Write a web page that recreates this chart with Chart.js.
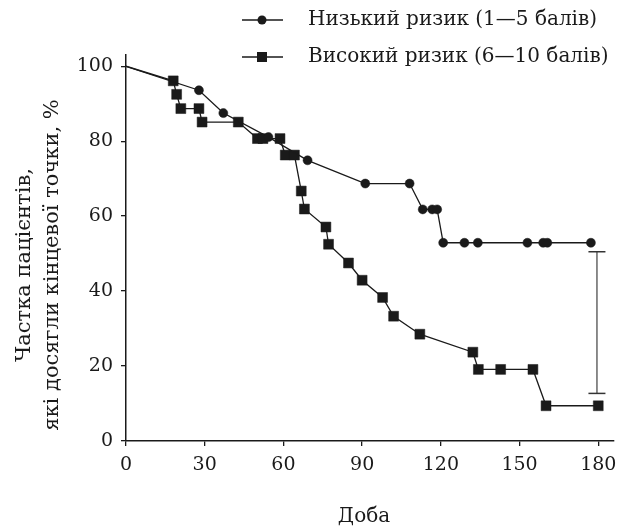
<!DOCTYPE html>
<html>
<head>
<meta charset="utf-8">
<script src="https://cdn.jsdelivr.net/npm/chart.js@4.4.0/dist/chart.umd.min.js"></script>
<style>
  html, body { margin: 0; padding: 0; background: #fff; }
  #wrap { width: 625px; height: 529px; position: relative; }
</style>
</head>
<body>
<div id="wrap"><canvas id="kmChart"></canvas></div>
<script>
// Data
const lowLabel = 'Низький ризик (1—5 балів)';
const highLabel = 'Високий ризик (6—10 балів)';

const lowDays = [0, 27.8, 37.1, 54.3, 69.2, 91.2, 108.1, 113.1, 116.7, 118.6, 120.9, 129.0, 134.1, 153.0, 159.0, 160.6, 177.2];
const lowValues = [100, 93.6, 87.5, 81.1, 74.9, 68.7, 68.7, 61.8, 61.8, 61.8, 52.9, 52.9, 52.9, 52.9, 52.9, 52.9, 52.9];

const highDays = [0, 18.0, 19.3, 20.9, 27.8, 29.0, 42.8, 50.1, 52.2, 58.7, 60.7, 64.2, 66.8, 68.0, 76.2, 77.2, 84.8, 90.0, 97.8, 102.0, 112.0, 132.2, 134.3, 142.8, 155.1, 160.1, 180];
const highValues = [100, 96.1, 92.5, 88.7, 88.7, 85.1, 85.1, 80.7, 80.7, 80.7, 76.3, 76.3, 66.7, 61.9, 57.1, 52.5, 47.5, 42.9, 38.3, 33.3, 28.5, 23.7, 19.1, 19.1, 19.1, 9.4, 9.4];

const errDay = 179.5;
const errRange = [12.7, 50.5];

const xTicks = [0, 30, 60, 90, 120, 150, 180];
const yTicks = [0, 20, 40, 60, 80, 100];

const xTitle = 'Доба';
const yTitle = ['Частка пацієнтів,', 'які досягли кінцевої точки, %'];

const FONT = '"DejaVu Serif", "Liberation Serif", serif';
const INK = '#1a1a1a';

const toPoints = (xs, ys) => xs.map((x, i) => ({ x: x, y: ys[i] }));

// legend + axis titles drawn on the canvas
const extras = {
    id: 'extras',
    afterDraw(chart) {
        const c = chart.ctx;
        c.save();
        c.fillStyle = INK;
        c.strokeStyle = INK;
        c.font = '20px ' + FONT;
        c.textBaseline = 'middle';

        // legend
        const rows = [
            { text: lowLabel, style: 'circle', y: 20 },
            { text: highLabel, style: 'rect', y: 57 }
        ];
        rows.forEach(r => {
            c.lineWidth = 1.3;
            c.beginPath();
            c.moveTo(242, r.y);
            c.lineTo(283, r.y);
            c.stroke();
            if (r.style === 'circle') {
                c.beginPath();
                c.arc(262, r.y, 4.5, 0, Math.PI * 2);
                c.fill();
            } else {
                c.fillRect(257, r.y - 5, 10, 10);
            }
            c.textAlign = 'left';
            c.fillText(r.text, 308, r.y);
        });

        // x title
        c.textAlign = 'center';
        c.fillText(xTitle, 364, 517);

        // y title
        c.font = '21px ' + FONT;
        c.translate(0, 265);
        c.rotate(-Math.PI / 2);
        c.fillText(yTitle[0], 0, 25);
        c.fillText(yTitle[1], 0, 53);
        c.restore();
    }
};

const ctx = document.getElementById('kmChart');

new Chart(ctx, {
    type: 'line',
    data: {
        datasets: [{
            label: lowLabel,
            data: toPoints(lowDays, lowValues),
            borderColor: INK,
            backgroundColor: INK,
            borderWidth: 1.3,
            pointStyle: 'circle',
            pointRadius: c => c.dataIndex === 0 ? 0 : 4.5,
            pointBorderWidth: 0.5,
            tension: 0
        }, {
            label: highLabel,
            data: toPoints(highDays, highValues),
            borderColor: INK,
            backgroundColor: INK,
            borderWidth: 1.3,
            pointStyle: 'rect',
            pointRadius: c => c.dataIndex === 0 ? 0 : 7,
            pointBorderWidth: 0.5,
            tension: 0
        }, {
            label: 'error',
            data: [{ x: errDay, y: errRange[0] }, { x: errDay, y: errRange[1] }],
            borderColor: '#666',
            backgroundColor: '#333',
            borderWidth: 1.5,
            pointStyle: 'line',
            pointRadius: 8.5,
            pointBorderColor: '#333',
            pointBorderWidth: 1.5
        }]
    },
    options: {
        responsive: true,
        maintainAspectRatio: false,
        animation: false,
        layout: { padding: { top: 55, right: 11, left: 0, bottom: 0 } },
        plugins: {
            legend: { display: false },
            tooltip: { enabled: false }
        },
        scales: {
            x: {
                type: 'linear',
                min: 0,
                max: 186,
                afterBuildTicks: s => { s.ticks = xTicks.map(v => ({ value: v })); },
                afterFit: s => { s.height = 88; },
                ticks: {
                    includeBounds: false,
                    color: INK,
                    padding: 8,
                    maxRotation: 0,
                    font: { family: FONT, size: 19 }
                },
                grid: { drawOnChartArea: false, tickLength: 5, color: INK, lineWidth: 1.3 },
                border: { color: INK, width: 1.5 }
            },
            y: {
                min: 0,
                max: 103,
                afterBuildTicks: s => { s.ticks = yTicks.map(v => ({ value: v })); },
                afterFit: s => { s.width = 126; },
                ticks: {
                    includeBounds: false,
                    color: INK,
                    padding: 8,
                    font: { family: FONT, size: 19 }
                },
                grid: { drawOnChartArea: false, tickLength: 5, color: INK, lineWidth: 1.3 },
                border: { color: INK, width: 1.5 }
            }
        }
    },
    plugins: [extras]
});
</script>
</body>
</html>
